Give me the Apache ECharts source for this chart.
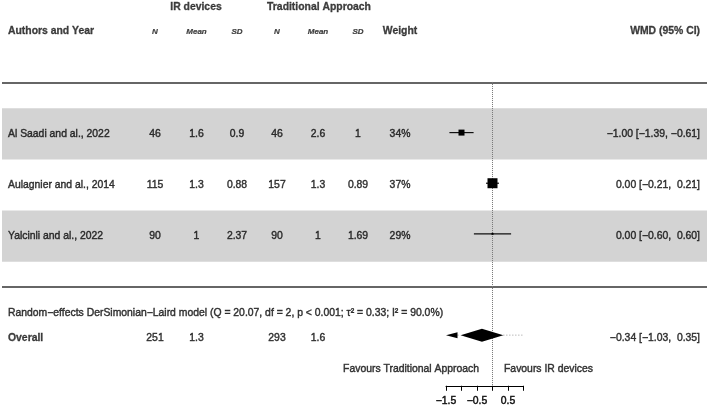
<!DOCTYPE html>
<html>
<head>
<meta charset="utf-8">
<script src="https://cdn.jsdelivr.net/npm/echarts@6/dist/echarts.min.js"></script>
<style>
html,body{margin:0;padding:0;background:#fff;}
#chart{width:709px;height:406px;}
</style>
</head>
<body>
<div id="chart"></div>
<script>
// ---------------- DATA ----------------
const studies = ["Al Saadi and al., 2022", "Aulagnier and al., 2014", "Yalcinli and al., 2022"];
const irN = [46, 115, 90];
const irMean = [1.6, 1.3, 1];
const irSD = [0.9, 0.88, 2.37];
const trN = [46, 157, 90];
const trMean = [2.6, 1.3, 1];
const trSD = [1, 0.89, 1.69];
const weights = [34, 37, 29];
const wmd = [-1.00, 0.00, 0.00];
const ciLow = [-1.39, -0.21, -0.60];
const ciHigh = [-0.61, 0.21, 0.60];
const overallN = [251, 293];
const overallMean = [1.3, 1.6];
const overallEst = [-0.34];
const overallLow = [-1.03];
const overallHigh = [0.35];
const predInterval = [-1.66, 0.98];
const xTicks = [-1.5, -1, -0.5, 0, 0.5, 1];
const xTickLabels = ["\u22121.5", "", "\u22120.5", "", "0.5", ""];
const groupHeaders = ["IR devices", "Traditional Approach"];
const colHeaders = ["N", "Mean", "SD", "N", "Mean", "SD"];
const modelText = "Random\u2212effects DerSimonian\u2212Laird model (Q = 20.07, df = 2, p < 0.001; \u03c4\u00b2 = 0.33; I\u00b2 = 90.0%)";
const favourLeft = "Favours Traditional Approach";
const favourRight = "Favours IR devices";

// ---------------- LAYOUT / STYLE ----------------
const FONT = "'Liberation Sans', Arial, Helvetica, sans-serif";
const FS = 10.4;
const TXT = '#111';
const STROKE = {textBorderColor: TXT, textBorderWidth: 0.45};
const markerSizes = [6, 10, 2];          // square sizes (style)
const colX = {name: 8, irN: 155, irMean: 196.5, irSD: 237, trN: 277, trMean: 318, trSD: 358, weight: 400, ci: 700};
const groupX = [196, 319];
const favourLeftX = 479, favourRightX = 504;
// rows: header 0, top line 1, studies 2..4, bottom line 5, model 5.5, overall 6, favours 6.6, axis 7
const studyRows = studies.map((s, i) => 2 + i);
const headerRow = 0, groupRow = -0.48, topLineRow = 1, bottomLineRow = 5, modelRow = 5.5, overallRow = 6, favourRow = 6.6;
const yMin = -0.5, yMax = 7;

function fmt(v) { const s = Math.abs(v).toFixed(2); return v < 0 ? "\u2212" + s : s; }
function padF(v) { return v < 0 ? fmt(v) : " " + fmt(v); }
function ciText(e, l, h) { return fmt(e) + " [" + padF(l) + ", " + padF(h) + "]"; }

const chart = echarts.init(document.getElementById('chart'), null, {renderer: 'canvas'});

// text items
const texts = [];
function addText(x, row, text, align, opts) {
  texts.push({value: [x, row], label: Object.assign({formatter: text, align: align}, STROKE, opts || {})});
}
const BOLD = {fontWeight: 'bold', textBorderWidth: 0.3};
groupHeaders.forEach((g, i) => addText(groupX[i], groupRow, g, 'center', BOLD));
addText(colX.name, headerRow, "Authors and Year", 'left', BOLD);
const hdrKeys = ['irN', 'irMean', 'irSD', 'trN', 'trMean', 'trSD'];
colHeaders.forEach((h, i) => addText(colX[hdrKeys[i]], headerRow, h, 'center', {fontStyle: 'italic', fontWeight: 'bold', fontSize: 8, textBorderWidth: 0.2}));
addText(colX.weight, headerRow, "Weight", 'center', BOLD);
addText(colX.ci, headerRow, "WMD (95% CI)", 'right', BOLD);
studies.forEach((s, i) => {
  const r = studyRows[i];
  addText(colX.name, r, s, 'left');
  addText(colX.irN, r, String(irN[i]), 'center');
  addText(colX.irMean, r, String(irMean[i]), 'center');
  addText(colX.irSD, r, String(irSD[i]), 'center');
  addText(colX.trN, r, String(trN[i]), 'center');
  addText(colX.trMean, r, String(trMean[i]), 'center');
  addText(colX.trSD, r, String(trSD[i]), 'center');
  addText(colX.weight, r, weights[i] + "%", 'center');
  addText(colX.ci, r, ciText(wmd[i], ciLow[i], ciHigh[i]), 'right');
});
addText(colX.name, modelRow, modelText, 'left');
addText(colX.name, overallRow, "Overall", 'left', BOLD);
addText(colX.irN, overallRow, String(overallN[0]), 'center');
addText(colX.irMean, overallRow, String(overallMean[0]), 'center');
addText(colX.trN, overallRow, String(overallN[1]), 'center');
addText(colX.trMean, overallRow, String(overallMean[1]), 'center');
addText(colX.ci, overallRow, ciText(overallEst[0], overallLow[0], overallHigh[0]), 'right');
addText(favourLeftX, favourRow, favourLeft, 'right');
addText(favourRightX, favourRow, favourRight, 'left');

const bandAreas = studyRows.filter((r, i) => i % 2 === 0).map(r => [
  {xAxis: 2, yAxis: r - 0.5}, {xAxis: 707, yAxis: r + 0.5}
]);

const option = {
  animation: false,
  backgroundColor: '#fff',
  textStyle: {fontFamily: FONT},
  grid: [
    {left: 446, width: 77.5, top: 6, height: 383.5},
    {left: 0, right: 0, top: 6, height: 383.5}
  ],
  xAxis: [
    {
      gridIndex: 0, type: 'value', min: -1.5, max: 1, interval: 0.5, position: 'bottom',
      axisLine: {show: true, onZero: false, lineStyle: {color: '#000', width: 1}},
      axisTick: {show: true, length: 5, lineStyle: {color: '#000', width: 1}},
      axisLabel: {
        show: true, margin: 10, color: TXT, fontSize: FS, fontFamily: FONT,
        textBorderColor: TXT, textBorderWidth: 0.45,
        showMinLabel: true, showMaxLabel: true, hideOverlap: false,
        formatter: v => { const i = xTicks.findIndex(t => Math.abs(t - v) < 1e-9); return i >= 0 ? xTickLabels[i] : ''; }
      },
      splitLine: {show: false}
    },
    {gridIndex: 1, type: 'value', min: 0, max: 709, show: false}
  ],
  yAxis: [
    {gridIndex: 0, type: 'value', inverse: true, min: yMin, max: yMax, show: false},
    {gridIndex: 1, type: 'value', inverse: true, min: yMin, max: yMax, show: false}
  ],
  series: [
    {
      type: 'line', xAxisIndex: 1, yAxisIndex: 1, data: [], z: 1, silent: true,
      markArea: {silent: true, itemStyle: {color: '#d3d3d3'}, data: bandAreas},
      markLine: {
        silent: true, symbol: 'none', label: {show: false},
        lineStyle: {color: '#333', width: 1.5, type: 'solid'},
        data: [[{xAxis: 2, yAxis: topLineRow}, {xAxis: 707, yAxis: topLineRow}],
               [{xAxis: 2, yAxis: bottomLineRow}, {xAxis: 707, yAxis: bottomLineRow}]]
      }
    },
    {
      type: 'line', xAxisIndex: 0, yAxisIndex: 0, data: [], z: 2, silent: true,
      markLine: {
        silent: true, symbol: 'none', label: {show: false},
        lineStyle: {color: '#777', width: 1, type: 'dotted'},
        data: [[{coord: [0, topLineRow]}, {coord: [0, yMax]}]]
      }
    },
    {
      type: 'custom', xAxisIndex: 0, yAxisIndex: 0, z: 5, clip: false,
      data: studies.map((s, i) => [wmd[i], ciLow[i], ciHigh[i], studyRows[i], markerSizes[i]]),
      encode: {x: [0, 1, 2], y: 3},
      renderItem: (params, api) => {
        const row = api.value(3), sz = api.value(4);
        const pLo = api.coord([api.value(1), row]), pHi = api.coord([api.value(2), row]), pE = api.coord([api.value(0), row]);
        return {type: 'group', children: [
          {type: 'line', shape: {x1: pLo[0], y1: pLo[1], x2: pHi[0], y2: pHi[1]}, style: {stroke: '#111', lineWidth: 1.2}},
          {type: 'rect', shape: {x: pE[0] - sz / 2, y: pE[1] - sz / 2, width: sz, height: sz}, style: {fill: '#000'}}
        ]};
      }
    },
    {
      type: 'custom', xAxisIndex: 0, yAxisIndex: 0, z: 4, clip: false,
      data: [[predInterval[0], predInterval[1], overallLow[0], overallHigh[0], overallRow]],
      encode: {x: [2, 3], y: 4},
      renderItem: (params, api) => {
        const row = api.value(4);
        const xMinV = -1.5, xMaxV = 1;
        const children = [];
        const pLb = api.coord([api.value(2), row]), pUb = api.coord([api.value(3), row]);
        const hiV = Math.min(api.value(1), xMaxV);
        const pHi = api.coord([hiV, row]);
        children.push({type: 'line', shape: {x1: pUb[0], y1: pUb[1], x2: pHi[0], y2: pHi[1]}, style: {stroke: '#999', lineWidth: 1, lineDash: [1, 2]}});
        const loV = api.value(0);
        if (loV < xMinV) {
          const tip = api.coord([xMinV, row]);
          const base = tip[0] + 11.5;
          children.push({type: 'line', shape: {x1: base, y1: tip[1], x2: pLb[0], y2: pLb[1]}, style: {stroke: '#999', lineWidth: 1, lineDash: [1, 2]}});
          children.push({type: 'polygon', shape: {points: [[tip[0], tip[1]], [base, tip[1] - 3], [base, tip[1] + 3]]}, style: {fill: '#000'}});
        } else {
          const pLo = api.coord([loV, row]);
          children.push({type: 'line', shape: {x1: pLo[0], y1: pLo[1], x2: pLb[0], y2: pLb[1]}, style: {stroke: '#999', lineWidth: 1, lineDash: [1, 2]}});
        }
        return {type: 'group', children: children};
      }
    },
    {
      type: 'custom', xAxisIndex: 0, yAxisIndex: 0, z: 6, clip: false,
      data: [[overallEst[0], overallLow[0], overallHigh[0], overallRow]],
      encode: {x: [0, 1, 2], y: 3},
      renderItem: (params, api) => {
        const row = api.value(3);
        const pE = api.coord([api.value(0), row]), pL = api.coord([api.value(1), row]), pH = api.coord([api.value(2), row]);
        const h = 6.5;
        return {type: 'polygon', shape: {points: [[pL[0], pL[1]], [pE[0], pE[1] - h], [pH[0], pH[1]], [pE[0], pE[1] + h]]}, style: {fill: '#000'}};
      }
    },
    {
      type: 'scatter', xAxisIndex: 1, yAxisIndex: 1, z: 10, symbolSize: 0, silent: true,
      label: {show: true, position: 'inside', verticalAlign: 'middle', color: TXT, fontSize: FS, fontFamily: FONT},
      data: texts
    }
  ]
};
chart.setOption(option);
</script>
</body>
</html>
